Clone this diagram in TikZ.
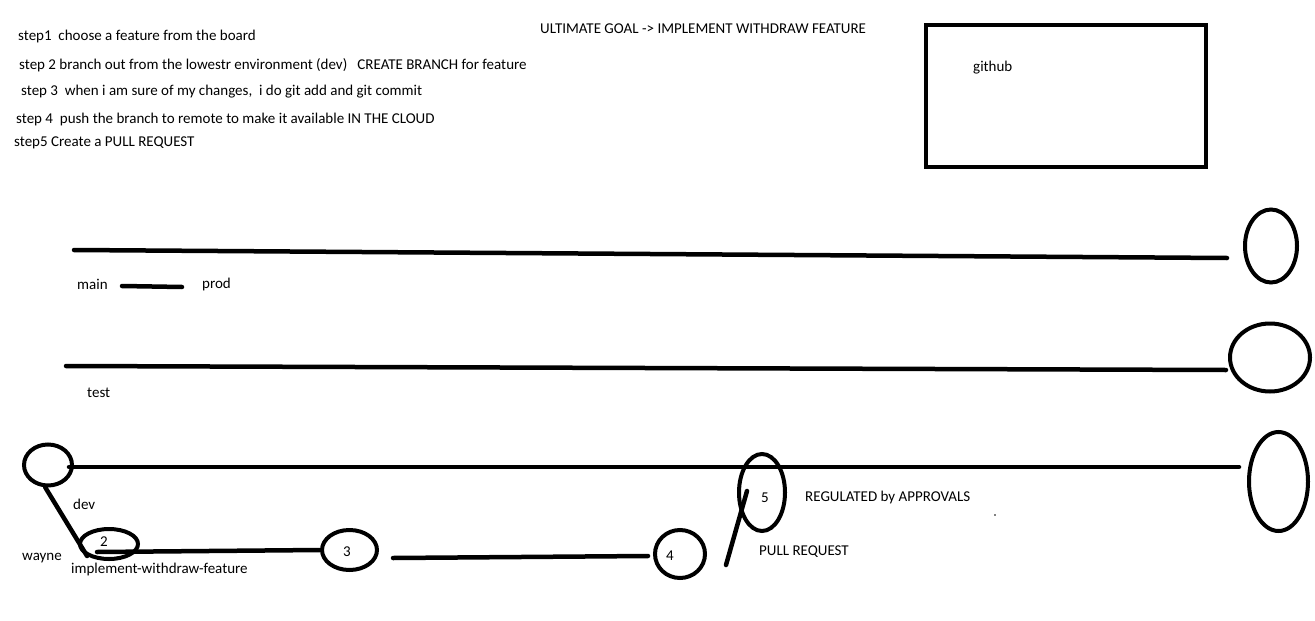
\documentclass[tikz,border=0pt]{standalone}
\usepackage{fontspec}
\setmainfont{Carlito}
\usetikzlibrary{shapes.geometric}

\begin{document}
\begin{tikzpicture}[x=1pt,y=-1pt,
    txt/.style={anchor=west,inner sep=0pt,font=\fontsize{15}{17}\selectfont},
    num/.style={inner sep=0pt,font=\fontsize{15}{17}\selectfont},
    stroke/.style={line width=4.5pt,line cap=round},
    ring/.style={draw,ellipse,line width=4pt,inner sep=0pt}]
    \useasboundingbox (0,0) rectangle (1315,621);

    % The steps, top left
    \foreach \x/\y/\n/\txt in {18/37/1/{step1\ \ choose a feature from the board},
        19/65/2/{step 2 branch out from the lowestr environment (dev)\ \ \ CREATE BRANCH for feature},
        21/92/3/{step 3\ \ when i am sure of my changes,\ \ i do git add and git commit},
        16/120/4/{step 4\ \ push the branch to remote to make it available IN THE CLOUD},
        14/143/5/{step5 Create a PULL REQUEST}} {
        \node[txt] (step\n) at (\x,\y) {\txt};
    }
    \node[txt] (goal) at (540,29) {ULTIMATE GOAL -> IMPLEMENT WITHDRAW FEATURE};

    % github box
    \draw[line width=4pt] (926,25) rectangle (1206,167);
    \node[txt] (github) at (973,68) {github};

    % Remote ends of the environments
    \node[ring,minimum width=52pt,minimum height=73pt] (mainR) at (1271,246) {};
    \node[ring,minimum width=80pt,minimum height=68pt] (testR) at (1270,357.5) {};
    \node[ring,minimum width=59pt,minimum height=99pt] (devR) at (1278.5,481.5) {};

    % main
    \coordinate (mainA) at (74,250);
    \coordinate (mainB) at (1227,258);
    \draw[stroke] (mainA) -- (mainB);
    \node[txt] (main) at (77,284) {main};
    \node[txt] (prod) at (202,284) {prod};
    \coordinate (prodA) at (122,286);
    \coordinate (prodB) at (182,287);
    \draw[stroke] (prodA) -- (prodB);

    % test
    \coordinate (testA) at (66,366);
    \coordinate (testB) at (1226,370);
    \draw[stroke] (testA) -- (testB);
    \node[txt] (test) at (87,393) {test};

    % dev
    \node[ring,minimum width=48pt,minimum height=41pt] (devL) at (48,465) {};
    \coordinate (devA) at (69,467);
    \coordinate (devB) at (1239,467);
    \draw[stroke] (devA) -- (devB);
    \node[txt] (dev) at (73,504) {dev};

    % feature branch
    \node[ring,minimum width=58pt,minimum height=30pt] (c2) at (109,544) {};
    \node[ring,minimum width=55pt,minimum height=40pt] (c3) at (349.5,550) {};
    \node[ring,minimum width=50pt,minimum height=48pt] (c4) at (680,554) {};
    \node[ring,minimum width=46pt,minimum height=77pt] (c5) at (762,492.5) {};
    \node[num] (n2) at (104,542) {2};
    \node[num] (n3) at (347,552) {3};
    \node[num] (n4) at (670,556) {4};
    \node[num] (n5) at (765,498) {5};
    \draw[stroke] (devL.-97) -- (c2.south west);
    \coordinate (p2) at (97,552);
    \draw[stroke] (p2) -- (c3.west);
    \coordinate (p3) at (393,558);
    \coordinate (p4) at (648,556);
    \draw[stroke] (p3) -- (p4);
    \coordinate (prA) at (726,565);
    \coordinate (prB) at (747,491);
    \draw[stroke] (prA) -- (prB);

    \node[txt] (wayne) at (22,558) {wayne};
    \node[txt] (branch) at (71,569) {implement-withdraw-feature};
    \node[txt] (pr) at (759,552) {PULL REQUEST};
    \node[txt] (regulated) at (805,497) {REGULATED by APPROVALS};
    \fill (995,515) circle (0.8pt);
\end{tikzpicture}
\end{document}
